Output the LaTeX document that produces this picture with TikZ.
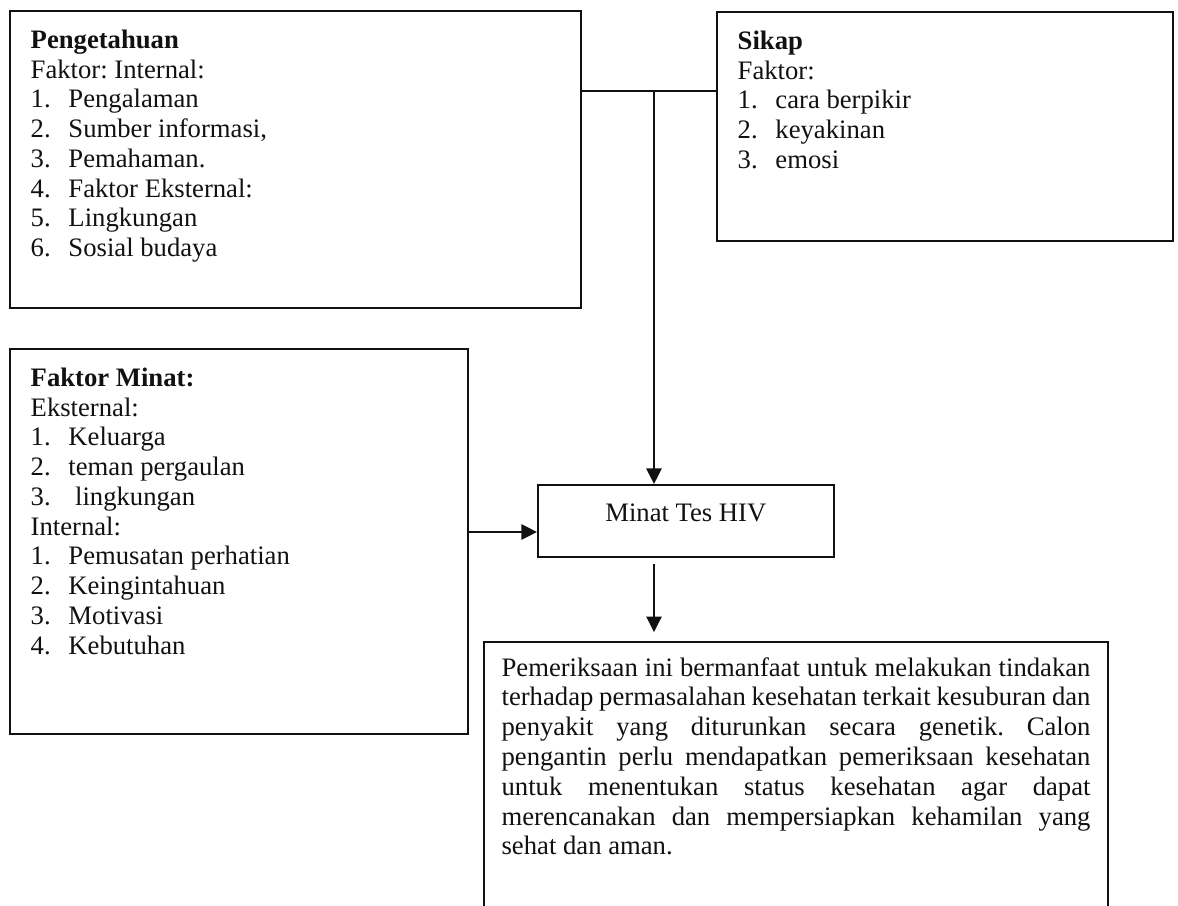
\documentclass[tikz,border=0pt]{standalone}
\usepackage{fontspec}
\setmainfont{Liberation Serif}
\usetikzlibrary{arrows.meta}
\definecolor{hivInk}{HTML}{111111}
\frenchspacing
\newcommand{\boxtext}[3]{\parbox[t][#2][t]{#1}{#3}}
\newcommand{\itm}[2]{\makebox[17pt][l]{#1}#2}
\tikzset{
  hiv box/.style={draw=hivInk, line width=0.75pt, anchor=north west, inner xsep=9.4pt, inner ysep=8.5pt, font=\fontsize{12}{13.4}\selectfont, text=hivInk},
  hiv link/.style={draw=hivInk, line width=1pt},
  hiv arrow/.style={hiv link, -{Triangle[length=7pt,width=6.8pt]}},
}

\begin{document}
\begin{tikzpicture}[x=0.45pt,y=-0.45pt]
  \useasboundingbox (0,0) rectangle (1178,905);
  % factor boxes
  \node[hiv box] (peng) at (9,10) {\boxtext{238.2pt}{116.6pt}{%
    \textbf{Pengetahuan}\\
    Faktor: Internal:\\
    \itm{1.}{Pengalaman}\\
    \itm{2.}{Sumber informasi,}\\
    \itm{3.}{Pemahaman.}\\
    \itm{4.}{Faktor Eksternal:}\\
    \itm{5.}{Lingkungan}\\
    \itm{6.}{Sosial budaya}}};
  \node[hiv box] (sikap) at (716,11) {\boxtext{186.4pt}{86pt}{%
    \textbf{Sikap}\\
    Faktor:\\
    \itm{1.}{cara berpikir}\\
    \itm{2.}{keyakinan}\\
    \itm{3.}{emosi}}};
  \node[hiv box] (minatf) at (9,348) {\boxtext{187.3pt}{156.2pt}{%
    \textbf{Faktor Minat:}\\
    Eksternal:\\
    \itm{1.}{Keluarga}\\
    \itm{2.}{teman pergaulan}\\
    \itm{3.}{\ lingkungan}\\
    Internal:\\
    \itm{1.}{Pemusatan perhatian}\\
    \itm{2.}{Keingintahuan}\\
    \itm{3.}{Motivasi}\\
    \itm{4.}{Kebutuhan}}};
  \node[hiv box] (minat) at (537,484) {\boxtext{114.4pt}{15.4pt}{\centering Minat Tes HIV}};
  \node[hiv box, inner xsep=8pt, inner ysep=7pt] (periksa) at (483,641) {\boxtext{265pt}{116pt}{%
    Pemeriksaan ini bermanfaat untuk melakukan tindakan\linebreak
    terhadap permasalahan kesehatan terkait kesuburan dan\linebreak
    penyakit yang diturunkan secara genetik. Calon\linebreak
    pengantin perlu mendapatkan pemeriksaan kesehatan\linebreak
    untuk menentukan status kesehatan agar dapat\linebreak
    merencanakan dan mempersiapkan kehamilan yang\linebreak
    sehat dan aman.}};
  % connectors
  \coordinate (split) at (654,91);
  \coordinate (feed) at (0,532);
  \draw[hiv link] (peng.east |- split) -- (sikap.west |- split);
  \draw[hiv arrow] (split) -- (split |- minat.north);
  \draw[hiv arrow] (minatf.east |- feed) -- (minat.west |- feed);
  \draw[hiv arrow, shorten <=2.7pt, shorten >=4pt] (split |- minat.south) -- (split |- periksa.north);
\end{tikzpicture}
\end{document}
